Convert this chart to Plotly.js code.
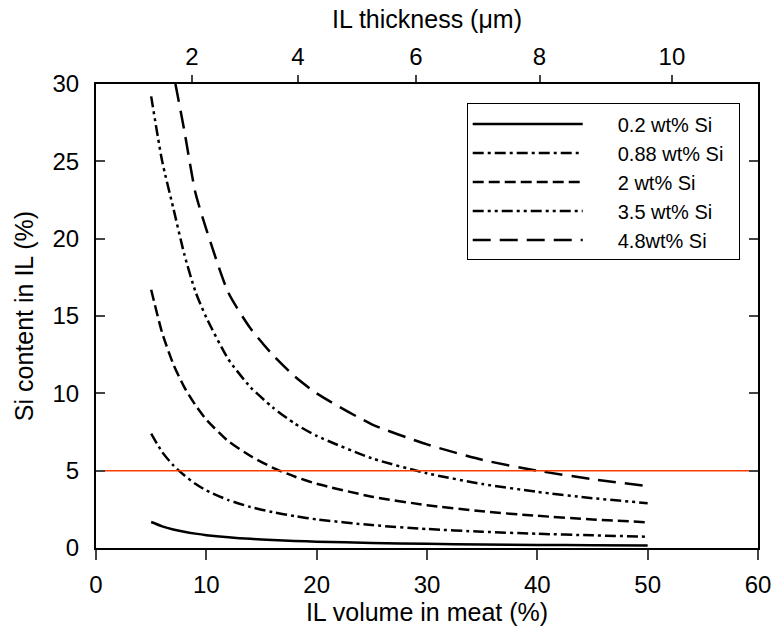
<!DOCTYPE html>
<html><head><meta charset="utf-8">
<script src="https://cdn.plot.ly/plotly-3.0.1.min.js"></script>
<style>html,body{margin:0;padding:0;background:#fff}#chart{width:776px;height:644px}</style>
</head><body><div id="chart"></div>
<script>
const seriesNames = ['0.2 wt% Si', '0.88 wt% Si', '2 wt% Si', '3.5 wt% Si', '4.8wt% Si'];
const xCommon = [5, 6, 7, 8, 9, 10, 12, 14, 16, 18, 20, 25, 30, 35, 40, 45, 50];
const si02  = [1.68, 1.40, 1.20, 1.05, 0.93, 0.83, 0.69, 0.59, 0.52, 0.46, 0.41, 0.33, 0.27, 0.23, 0.20, 0.18, 0.16];
const si088 = [7.40, 6.20, 5.35, 4.70, 4.15, 3.72, 3.10, 2.65, 2.32, 2.06, 1.85, 1.48, 1.23, 1.05, 0.92, 0.82, 0.73];
const si2   = [16.7, 13.9, 11.9, 10.4, 9.25, 8.30, 6.90, 5.95, 5.20, 4.62, 4.15, 3.32, 2.77, 2.37, 2.08, 1.85, 1.66];
const si35  = [29.2, 25.0, 22.0, 19.0, 16.6, 14.9, 12.2, 10.4, 9.10, 8.05, 7.25, 5.80, 4.83, 4.14, 3.63, 3.22, 2.90];
const x48   = [7.2, 8, 9, 10, 12, 14, 16, 18, 20, 25, 30, 35, 40, 45, 50];
const si48  = [30.0, 27.0, 23.0, 20.6, 16.5, 14.2, 12.5, 11.1, 10.0, 8.0, 6.7, 5.7, 5.0, 4.45, 4.0];
const refX = [0, 59.3];
const refY = [5, 5];
const thicknessTickPos = [8.7, 18.3, 29.0, 40.2, 52.2];
const thicknessTickText = ['2', '4', '6', '8', '10'];

const FONT = 'Liberation Sans, Arial, Helvetica, sans-serif';
const GAP = '\u2003\u2002';
const dashes = ['solid', '11px,4px,3px,4px', '11px,5px', '11px,4px,3px,4px,3px,4px', '18px,9px'];
const xs = [xCommon, xCommon, xCommon, xCommon, x48];
const ys = [si02, si088, si2, si35, si48];

const traces = seriesNames.map((n, i) => ({
  x: xs[i], y: ys[i], name: GAP + n + '\u2002', type: 'scatter', mode: 'lines',
  line: {color: 'black', width: 2.5, dash: dashes[i], shape: 'spline', smoothing: 0.6}
}));
traces.push({
  x: refX, y: refY, xaxis: 'x2', yaxis: 'y', type: 'scatter', mode: 'lines',
  line: {color: '#ff3a00', width: 1.5}, showlegend: false, hoverinfo: 'skip'
});

const layout = {
  width: 776, height: 644,
  paper_bgcolor: 'white', plot_bgcolor: 'white',
  margin: {l: 96, r: 18, t: 84, b: 96},
  font: {family: FONT, color: 'black', size: 24},
  showlegend: true,
  xaxis: {
    range: [0, 60], dtick: 10, tick0: 0, ticks: 'outside', ticklen: 10, tickwidth: 2,
    showline: true, linewidth: 2, linecolor: 'black', mirror: false,
    showgrid: false, zeroline: false, tickfont: {size: 24, family: FONT},
    ticklabelstandoff: 4,
    title: {text: 'IL volume in meat (%)', font: {size: 25, family: FONT}, standoff: 2}
  },
  xaxis2: {
    overlaying: 'x', side: 'top', anchor: 'y', range: [0, 60],
    tickmode: 'array', tickvals: thicknessTickPos, ticktext: thicknessTickText,
    ticks: 'outside', ticklen: 7, tickwidth: 2,
    showline: true, linewidth: 2, linecolor: 'black',
    showgrid: false, zeroline: false, tickfont: {size: 24, family: FONT},
    title: {text: 'IL thickness (μm)', font: {size: 25, family: FONT}, standoff: 8}
  },
  yaxis: {
    range: [0, 30], dtick: 5, tick0: 0, ticks: 'inside', ticklen: 9, tickwidth: 2,
    showline: true, linewidth: 2, linecolor: 'black', mirror: 'ticks',
    showgrid: false, zeroline: false, tickfont: {size: 24, family: FONT},
    ticklabelstandoff: 10,
    title: {text: 'Si content in IL (%)', font: {size: 25, family: FONT}, standoff: 12}
  },
  legend: {
    x: 0.56, y: 0.958, xanchor: 'left', yanchor: 'top',
    bgcolor: 'white', bordercolor: 'black', borderwidth: 1,
    font: {size: 20, family: FONT}, itemwidth: 110, tracegroupgap: 0
  }
};

Plotly.newPlot('chart', traces, layout, {displayModeBar: false, staticPlot: true});
</script>
</body></html>
